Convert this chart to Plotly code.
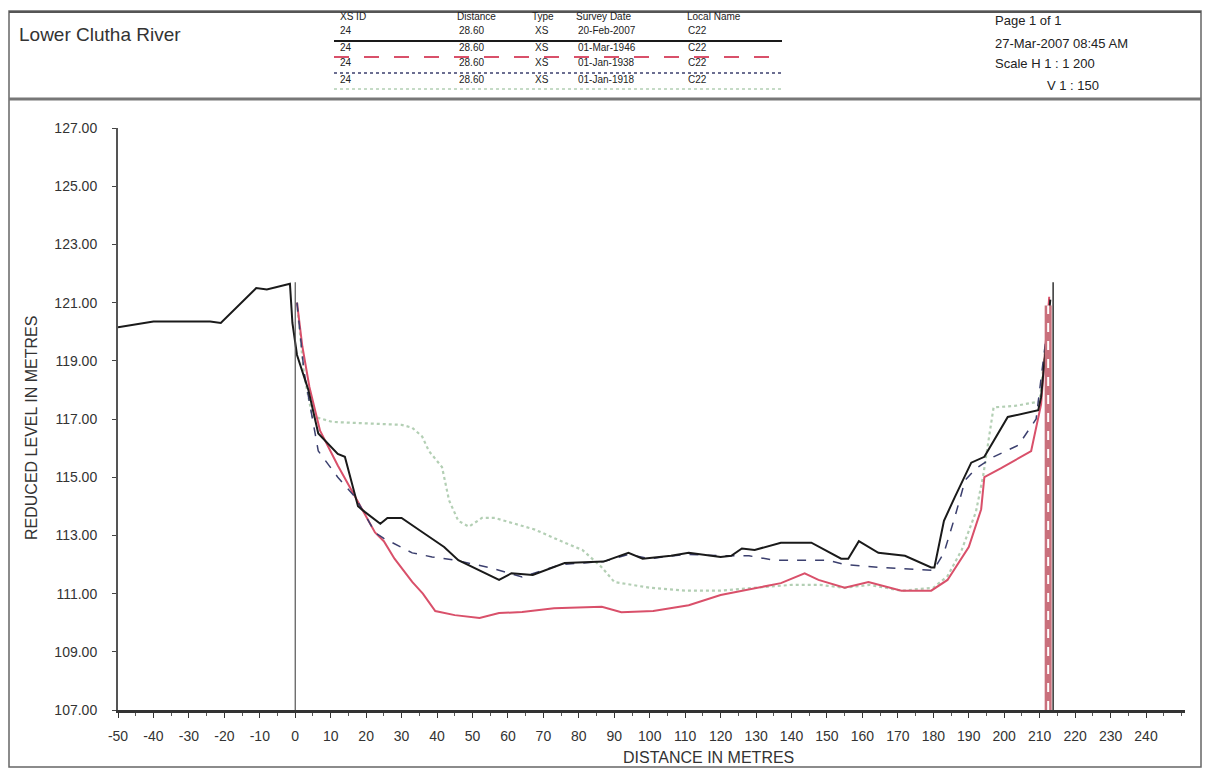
import plotly.graph_objects as go

# ---- cross-section survey data (chainage in m, reduced level in m) ----
x_2007 = [-50, -40, -24, -21, -11, -8, -1.5, -0.8, 0.5, 3.7, 6.5, 12, 14, 17.7, 19.7, 24, 26, 30,
          36, 42, 46, 57.5, 61, 67, 76, 87, 94, 98, 106, 111, 120, 123, 126, 129.6, 137, 145.6,
          154, 156, 159, 164.5, 172, 179.4, 180.3, 183, 186, 190.7, 194.4, 201, 209.6, 210.4, 213]
y_2007 = [120.15, 120.35, 120.35, 120.3, 121.5, 121.45, 121.65, 120.3, 119.2, 118.0, 116.5, 115.8,
          115.7, 114.0, 113.8, 113.4, 113.6, 113.6, 113.1, 112.6, 112.15, 111.47, 111.7, 111.64,
          112.05, 112.1, 112.4, 112.2, 112.3, 112.4, 112.26, 112.3, 112.55, 112.5, 112.75, 112.75,
          112.2, 112.2, 112.8, 112.4, 112.3, 111.9, 111.9, 113.5, 114.3, 115.5, 115.7, 117.07,
          117.3, 117.75, 121.1]

x_1946 = [0.5, 2, 4, 7, 12, 18, 22.5, 25, 28, 33, 36, 39.5, 45, 52, 57.5, 64, 73, 86.5, 92, 101,
          111, 120, 130, 137, 143.7, 147.6, 155, 161.7, 171, 179.4, 184, 188, 190, 193.5, 194.4,
          199, 207.6, 210.4, 212.7]
y_1946 = [121.0, 119.5, 118.1, 116.6, 115.4, 114.1, 113.1, 112.8, 112.2, 111.4, 111.0, 110.4,
          110.26, 110.16, 110.33, 110.37, 110.5, 110.55, 110.36, 110.4, 110.6, 110.95, 111.2,
          111.36, 111.7, 111.47, 111.2, 111.4, 111.1, 111.1, 111.47, 112.2, 112.6, 113.9, 115.0,
          115.3, 115.9, 117.5, 121.2]

x_1938 = [0.5, 2.5, 6.5, 12, 17, 22.5, 25, 33, 38.6, 45, 54.6, 64, 75, 87, 94, 100, 110, 120,
          128, 135, 150, 155, 165, 172, 180, 183, 186, 189, 192, 197, 204, 209, 213]
y_1938 = [121.0, 118.6, 115.9, 115.0, 114.3, 113.1, 112.9, 112.4, 112.26, 112.15, 111.9, 111.57,
          112.0, 112.1, 112.35, 112.2, 112.35, 112.3, 112.3, 112.15, 112.15, 112.0, 111.9, 111.85,
          111.8, 112.4, 113.6, 114.9, 115.3, 115.7, 116.1, 117.0, 121.0]

x_1918 = [0.5, 2.5, 4.8, 10.4, 20, 30, 33, 35.8, 37.7, 41.4, 43.4, 46, 49, 52.7, 56.3, 62, 67.6,
          76, 81, 86.5, 90, 100, 110, 120, 130, 140, 148, 155, 162, 171, 180, 184, 188, 192, 194,
          197, 203, 210, 213]
y_1918 = [121.0, 118.5, 117.1, 116.9, 116.85, 116.8, 116.7, 116.4, 115.9, 115.35, 114.2, 113.5,
          113.3, 113.6, 113.6, 113.4, 113.2, 112.75, 112.5, 111.9, 111.4, 111.2, 111.1, 111.1,
          111.2, 111.3, 111.3, 111.2, 111.3, 111.1, 111.2, 111.6, 112.5, 113.8, 115.0, 117.4,
          117.45, 117.6, 121.0]

# bank markers
left_bank_x, left_bank_top = 0.0, 121.7
right_bank_x, right_bank_top = 213.8, 121.7
right_bank_1946_x, right_bank_1946_top = 212.4, 120.9

# survey table
xs_ids = ["24", "24", "24", "24"]
distances = ["28.60", "28.60", "28.60", "28.60"]
types = ["XS", "XS", "XS", "XS"]
survey_dates = ["20-Feb-2007", "01-Mar-1946", "01-Jan-1938", "01-Jan-1918"]
local_names = ["C22", "C22", "C22", "C22"]

x_ticks = list(range(-50, 250, 10))
y_ticks = list(range(107, 128, 2))

# styling per survey
styles = [
    dict(color="#1a1a1a", width=2, dash="solid"),
    dict(color="#d9506a", width=2, dash="solid"),
    dict(color="#3b3f6e", width=1.5, dash="dash"),
    dict(color="#b3cfb4", width=2.2, dash="dot"),
]
header_dash = ["solid", "longdash", "dot", "dot"]
series = [(x_2007, y_2007), (x_1946, y_1946), (x_1938, y_1938), (x_1918, y_1918)]

W, H = 1210, 771
L, R, T, B = 118, 1185, 128, 710


def px(xp):
    return (xp - L) / (R - L)


def py(yp):
    return (B - yp) / (B - T)


fig = go.Figure()
draw_order = [3, 1, 2, 0]
for i in draw_order:
    xv, yv = series[i]
    fig.add_trace(go.Scatter(x=xv, y=yv, mode="lines", line=styles[i],
                             name=survey_dates[i], showlegend=False))

shapes = []
# bank marker lines
shapes.append(dict(type="line", xref="x", yref="y", x0=left_bank_x, x1=left_bank_x,
                   y0=107, y1=left_bank_top, line=dict(color="#555", width=1.2)))
shapes.append(dict(type="line", xref="x", yref="y", x0=right_bank_1946_x, x1=right_bank_1946_x,
                   y0=107, y1=right_bank_1946_top, line=dict(color="#c9707c", width=7)))
shapes.append(dict(type="line", xref="x", yref="y", x0=right_bank_1946_x, x1=right_bank_1946_x,
                   y0=107, y1=right_bank_1946_top, line=dict(color="white", width=2, dash="dash")))
shapes.append(dict(type="line", xref="x", yref="y", x0=right_bank_x, x1=right_bank_x,
                   y0=107, y1=right_bank_top, line=dict(color="#333", width=1.5)))

# page frame and header box
shapes.append(dict(type="rect", xref="paper", yref="paper", x0=px(9), x1=px(1201),
                   y0=py(767), y1=py(11), line=dict(color="#666", width=1.5)))
shapes.append(dict(type="line", xref="paper", yref="paper", x0=px(9), x1=px(1201),
                   y0=py(12), y1=py(12), line=dict(color="#555", width=2)))
shapes.append(dict(type="line", xref="paper", yref="paper", x0=px(9), x1=px(1201),
                   y0=py(99), y1=py(99), line=dict(color="#777", width=3)))

# header line samples
row_text_y = [31, 47, 63, 79]
row_line_y = [41, 57, 73, 89]
for i in range(4):
    shapes.append(dict(type="line", xref="paper", yref="paper", x0=px(334), x1=px(782),
                       y0=py(row_line_y[i]), y1=py(row_line_y[i]),
                       line=dict(color=styles[i]["color"], width=2 if i < 2 else 1.6,
                                 dash=header_dash[i])))

annotations = []
FAM = "Liberation Sans, Arial"


def add_text(text, xp, yp, size=10, anchor="left", color="#222"):
    annotations.append(dict(text=text, xref="paper", yref="paper", x=px(xp), y=py(yp),
                            xanchor=anchor, yanchor="middle", showarrow=False,
                            font=dict(family=FAM, size=size, color=color)))


add_text("Lower Clutha River", 17, 35, size=19, color="#333")
add_text("XS ID", 338, 16)
add_text("Distance", 455, 16)
add_text("Type", 530, 16)
add_text("Survey Date", 574, 16)
add_text("Local Name", 685, 16)
for i in range(4):
    add_text(xs_ids[i], 338, row_text_y[i])
    add_text(distances[i], 486, row_text_y[i], anchor="right")
    add_text(types[i], 533, row_text_y[i])
    add_text(survey_dates[i], 576, row_text_y[i])
    add_text(local_names[i], 686, row_text_y[i])

add_text("Page 1 of 1", 993, 21, size=13)
add_text("27-Mar-2007 08:45 AM", 993, 43, size=13)
add_text("Scale H 1 : 1 200", 993, 64, size=13)
add_text("V 1 : 150", 1045, 85, size=13)

# axis titles
annotations.append(dict(text="REDUCED LEVEL IN METRES", xref="paper", yref="paper",
                        x=px(32), y=py(428), textangle=-90, showarrow=False,
                        xanchor="center", yanchor="middle",
                        font=dict(family=FAM, size=16, color="#333")))
annotations.append(dict(text="DISTANCE IN METRES", xref="paper", yref="paper",
                        x=px(708), y=py(757), showarrow=False,
                        xanchor="center", yanchor="middle",
                        font=dict(family=FAM, size=16, color="#333")))

tick_font = dict(family=FAM, size=14, color="#333")

fig.update_layout(
    width=W, height=H,
    margin=dict(l=L, r=W - R, t=T, b=H - B, pad=0),
    paper_bgcolor="white", plot_bgcolor="white",
    shapes=shapes, annotations=annotations,
    xaxis=dict(range=[-50, 251], tickvals=x_ticks, ticktext=[str(v) for v in x_ticks],
               showgrid=False, zeroline=False, showline=True, linecolor="#333", linewidth=2.5,
               ticks="outside", ticklen=5, tickwidth=1.2, tickcolor="#333", tickfont=tick_font,
               ticklabelstandoff=6,
               minor=dict(dtick=5, tick0=0, ticks="outside", ticklen=3, tickcolor="#555",
                          showgrid=False)),
    yaxis=dict(range=[107, 127], tickvals=y_ticks, ticktext=[f"{v:.2f}" for v in y_ticks],
               showgrid=False, zeroline=False, showline=True, linecolor="#555", linewidth=2,
               ticks="outside", ticklen=4, tickwidth=1.2, tickcolor="#444", tickfont=tick_font,
               ticklabelstandoff=12),
)

fig.write_html("out.html")
